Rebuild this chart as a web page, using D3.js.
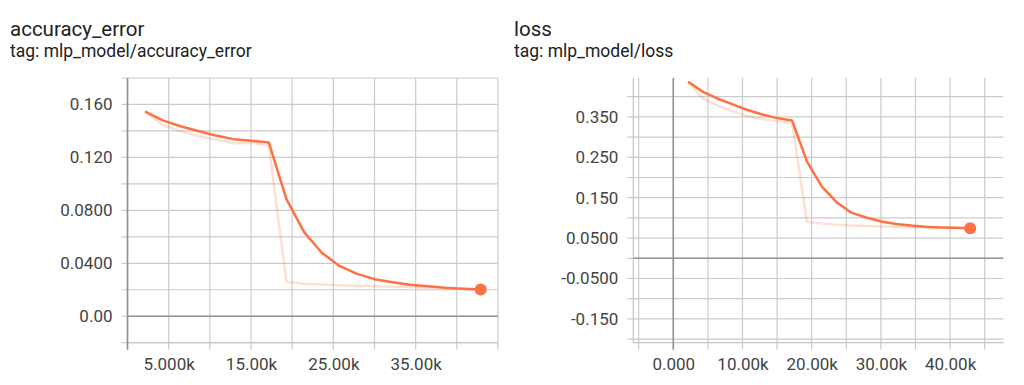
<!DOCTYPE html>
<html>
<head>
<meta charset="utf-8">
<script src="https://cdn.jsdelivr.net/npm/d3@7"></script>
<style>
  body { margin: 0; background: #fff; }
  svg { font-family: Roboto, "Noto Sans", sans-serif; }
</style>
</head>
<body>
<svg id="chart" width="1024" height="385"></svg>
<script>
// steps of the logged points (same for both charts)
var steps = [2145, 4290, 6435, 8580, 10725, 12870, 15015, 17160, 19305, 21450,
             23595, 25740, 27885, 30030, 32175, 34320, 36465, 38610, 40755, 42900];

// accuracy_error: raw (faint) and smoothed values
var accRaw = [0.1546, 0.1445, 0.1400, 0.1360, 0.1335, 0.1306, 0.1310, 0.1288, 0.0260, 0.0245,
              0.0240, 0.0235, 0.0230, 0.0227, 0.0222, 0.0220, 0.0215, 0.0210, 0.0205, 0.0202];
var accSmooth = [0.1546, 0.1480, 0.1435, 0.1400, 0.1365, 0.1338, 0.1326, 0.1313, 0.0885, 0.0635,
                 0.0480, 0.0380, 0.0320, 0.0280, 0.0257, 0.0238, 0.0226, 0.0215, 0.0208, 0.0202];

// loss: raw (faint) and smoothed values
var lossRaw = [0.437, 0.396, 0.378, 0.364, 0.352, 0.345, 0.340, 0.336, 0.0906, 0.0860,
               0.0830, 0.0810, 0.0800, 0.0790, 0.0780, 0.0770, 0.0762, 0.0755, 0.0750, 0.0745];
var lossSmooth = [0.437, 0.412, 0.395, 0.381, 0.367, 0.356, 0.347, 0.341, 0.240, 0.178,
                  0.139, 0.113, 0.101, 0.091, 0.085, 0.081, 0.078, 0.0765, 0.0755, 0.0745];

// axis ticks
var accYGrid = [-0.02, 0, 0.02, 0.04, 0.06, 0.08, 0.10, 0.12, 0.14, 0.16, 0.18];
var accYTicks = [0, 0.04, 0.08, 0.12, 0.16];
var accYLabels = ["0.00", "0.0400", "0.0800", "0.120", "0.160"];
var accXGrid = [0, 5000, 10000, 15000, 20000, 25000, 30000, 35000, 40000, 45000];
var accXTicks = [5000, 15000, 25000, 35000];
var accXLabels = ["5.000k", "15.00k", "25.00k", "35.00k"];

var lossYGrid = [-0.20, -0.15, -0.10, -0.05, 0, 0.05, 0.10, 0.15, 0.20, 0.25, 0.30, 0.35, 0.40];
var lossYTicks = [-0.15, -0.05, 0.05, 0.15, 0.25, 0.35];
var lossYLabels = ["-0.150", "-0.0500", "0.0500", "0.150", "0.250", "0.350"];
var lossXGrid = [-5000, 0, 5000, 10000, 15000, 20000, 25000, 30000, 35000, 40000, 45000];
var lossXTicks = [0, 10000, 20000, 30000, 40000];
var lossXLabels = ["0.000", "10.00k", "20.00k", "30.00k", "40.00k"];

var svg = d3.select("#chart");
var orange = "#ff7043";

function drawChart(o) {
  var g = svg.append("g");
  var x = d3.scaleLinear().domain(o.xDomain).range([o.left, o.right]);
  var y = d3.scaleLinear().domain(o.yDomain).range([o.bottom, o.top]);

  // titles
  g.append("text").attr("x", o.titleX).attr("y", 36)
    .attr("font-size", 20.5).attr("fill", "#212121").text(o.title);
  g.append("text").attr("x", o.titleX).attr("y", 57)
    .attr("font-size", 17.5).attr("fill", "#212121").text(o.tag);

  // grid
  g.selectAll(".hgrid").data(o.yGrid).enter().append("line")
    .attr("x1", o.left - 6).attr("x2", o.right)
    .attr("y1", function(d) { return y(d); }).attr("y2", function(d) { return y(d); })
    .attr("stroke", "#cbcbcb").attr("stroke-width", 1.2);
  g.selectAll(".vgrid").data(o.xGrid).enter().append("line")
    .attr("y1", o.top).attr("y2", o.bottom + 7)
    .attr("x1", function(d) { return x(d); }).attr("x2", function(d) { return x(d); })
    .attr("stroke", "#cbcbcb").attr("stroke-width", 1.2);

  // frame (left + bottom)
  g.append("line").attr("x1", o.left).attr("x2", o.left).attr("y1", o.top).attr("y2", o.bottom)
    .attr("stroke", "#c6c6c6").attr("stroke-width", 1.2);
  g.append("line").attr("x1", o.left).attr("x2", o.right).attr("y1", o.bottom).attr("y2", o.bottom)
    .attr("stroke", "#c6c6c6").attr("stroke-width", 1.2);

  // zero lines
  g.append("line").attr("x1", x(0)).attr("x2", x(0)).attr("y1", o.top).attr("y2", o.bottom + 7)
    .attr("stroke", "#939393").attr("stroke-width", 1.6);
  g.append("line").attr("x1", o.left).attr("x2", o.right).attr("y1", y(0)).attr("y2", y(0))
    .attr("stroke", "#939393").attr("stroke-width", 1.6);

  // axes labels
  var yAxis = d3.axisLeft(y).tickValues(o.yTicks).tickSize(0).tickPadding(15)
    .tickFormat(function(d, i) { return o.yLabels[i]; });
  var ya = g.append("g").attr("transform", "translate(" + o.left + ",0)").call(yAxis);
  var xAxis = d3.axisBottom(x).tickValues(o.xTicks).tickSize(0).tickPadding(0)
    .tickFormat(function(d, i) { return o.xLabels[i]; });
  var xa = g.append("g").attr("transform", "translate(0,358)").call(xAxis);
  [ya, xa].forEach(function(a) {
    a.select(".domain").remove();
    a.selectAll("text").attr("font-size", 17).attr("fill", "#444")
      .attr("font-family", "Roboto, 'Noto Sans', sans-serif");
  });

  var line = d3.line()
    .x(function(d, i) { return x(steps[i]); })
    .y(function(d) { return y(d); });

  g.append("path").datum(o.raw).attr("d", line)
    .attr("fill", "none").attr("stroke", orange).attr("stroke-opacity", 0.22)
    .attr("stroke-width", 2.5).attr("stroke-linejoin", "round");
  g.append("path").datum(o.smooth).attr("d", line)
    .attr("fill", "none").attr("stroke", orange)
    .attr("stroke-width", 2.5).attr("stroke-linejoin", "round");

  var last = o.smooth.length - 1;
  g.append("circle").attr("cx", x(steps[last])).attr("cy", y(o.smooth[last]))
    .attr("r", 6).attr("fill", orange);
}

drawChart({
  title: "accuracy_error", tag: "tag: mlp_model/accuracy_error", titleX: 10,
  left: 127.5, right: 498, top: 78, bottom: 342.7,
  xDomain: [0, 45000], yDomain: [-0.02, 0.18],
  xGrid: accXGrid, xTicks: accXTicks, xLabels: accXLabels,
  yGrid: accYGrid, yTicks: accYTicks, yLabels: accYLabels,
  raw: accRaw, smooth: accSmooth
});

drawChart({
  title: "loss", tag: "tag: mlp_model/loss", titleX: 514,
  left: 633.3, right: 1003.3, top: 78, bottom: 342.7,
  xDomain: [-5780, 47690], yDomain: [-0.2089, 0.4463],
  xGrid: lossXGrid, xTicks: lossXTicks, xLabels: lossXLabels,
  yGrid: lossYGrid, yTicks: lossYTicks, yLabels: lossYLabels,
  raw: lossRaw, smooth: lossSmooth
});
</script>
</body>
</html>
